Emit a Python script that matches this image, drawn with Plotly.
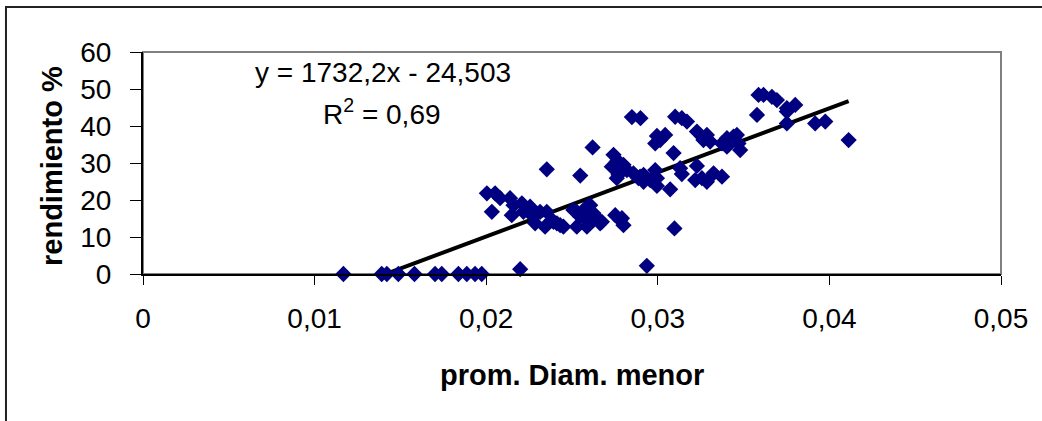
import plotly.graph_objects as go

# ---- data ----
diam_menor = [
    0.01168, 0.01391, 0.01421, 0.01488, 0.01582, 0.01702, 0.01741, 0.01838, 0.01887, 0.01935, 0.01974,
    0.02198, 0.02936, 0.03097,
    0.02004, 0.02052, 0.02033, 0.02081, 0.02139, 0.02159, 0.02149, 0.02208, 0.02217, 0.02256,
    0.02275, 0.02314, 0.02353, 0.02285, 0.02343, 0.02383, 0.02412, 0.02450, 0.02392, 0.02431,
    0.02508, 0.02528, 0.02548, 0.02587, 0.02606, 0.02625, 0.02567, 0.02654, 0.02528, 0.02587,
    0.02674, 0.02625, 0.02664, 0.02752, 0.02781, 0.02800, 0.02791,
    0.02353, 0.02548, 0.02620, 0.02849, 0.02899,
    0.02742, 0.02761, 0.02732, 0.02781, 0.02800, 0.02820, 0.02771, 0.02761, 0.02858, 0.02887,
    0.02917, 0.02897, 0.02917, 0.02956, 0.02985, 0.02995, 0.02995, 0.03072, 0.03092, 0.02995,
    0.03043, 0.02985, 0.03014, 0.03101, 0.03140, 0.03170, 0.03228, 0.03286, 0.03305, 0.03266,
    0.03130, 0.03140, 0.03228, 0.03218, 0.03257, 0.03286, 0.03325, 0.03374, 0.03403, 0.03441,
    0.03470, 0.03480, 0.03403, 0.03374, 0.03461, 0.03578, 0.03587, 0.03616, 0.03665, 0.03694,
    0.03752, 0.03801, 0.03752, 0.03752, 0.03917, 0.03976, 0.04112,
]
rendimiento = [
    0, 0, 0, 0, 0, 0, 0, 0, 0, 0, 0,
    1.3, 2.2, 12.3,
    21.8, 21.8, 16.8, 20.5, 20.5, 18.6, 15.9, 19.1, 16.8, 18.2,
    15.5, 16.8, 16.8, 13.7, 12.8, 14.6, 13.7, 12.8, 14.1, 13.2,
    17.3, 16.8, 15.5, 18.2, 18.6, 16.4, 15.5, 14.6, 12.8, 12.8,
    14.1, 14.6, 13.7, 15.9, 14.6, 13.2, 15.1,
    28.3, 26.6, 34.2, 42.4, 42.1,
    32.2, 30.4, 29.0, 29.9, 29.5, 28.1, 26.8, 25.9, 27.2, 25.9,
    26.8, 26.3, 24.9, 25.4, 28.1, 25.9, 23.8, 22.9, 32.7, 37.3,
    37.6, 35.3, 36.2, 42.5, 42.1, 41.2, 38.5, 37.6, 35.8, 36.2,
    28.6, 27.0, 29.2, 25.4, 25.9, 24.9, 27.2, 26.3, 36.7, 37.1,
    35.3, 33.5, 34.4, 35.3, 37.6, 43.0, 48.4, 48.4, 47.9, 47.0,
    44.8, 45.7, 43.9, 40.7, 40.7, 41.2, 36.2,
]

# trendline as printed on the chart
slope = 1732.2
intercept = -24.503
equation_text = "y = 1732,2x - 24,503"
r2_text = "R<sup>2</sup> = 0,69"

x_title = "prom. Diam. menor"
y_title = "rendimiento %"
x_tickvals = [0, 0.01, 0.02, 0.03, 0.04, 0.05]
x_ticktext = ["0", "0,01", "0,02", "0,03", "0,04", "0,05"]
y_tickvals = [0, 10, 20, 30, 40, 50, 60]

FONT = "Liberation Sans, Arial, sans-serif"

x_line = [min(diam_menor), max(diam_menor)]
y_line = [slope * v + intercept for v in x_line]

fig = go.Figure()
fig.add_trace(go.Scatter(
    x=x_line, y=y_line, mode="lines",
    line=dict(color="black", width=4),
    cliponaxis=True, hoverinfo="skip", showlegend=False,
))
fig.add_trace(go.Scatter(
    x=diam_menor, y=rendimiento, mode="markers",
    marker=dict(symbol="diamond", size=12.5, color="#000080", line=dict(width=0)),
    cliponaxis=False, showlegend=False,
))

axis_common = dict(showgrid=False, zeroline=False)
fig.update_layout(
    width=1042, height=421,
    margin=dict(l=143, r=41, t=52, b=147),
    paper_bgcolor="white", plot_bgcolor="white",
    font=dict(family=FONT, color="black"),
    xaxis=dict(range=[0, 0.05], tickvals=x_tickvals, ticktext=x_ticktext,
               ticks="outside", ticklen=9, tickwidth=1, tickcolor="black",
               ticklabelstandoff=9,
               showline=True, linecolor="black", linewidth=2,
               tickfont=dict(size=28, family=FONT), **axis_common),
    yaxis=dict(range=[0, 60], tickvals=y_tickvals,
               ticks="outside", ticklen=11, tickwidth=1, tickcolor="black",
               ticklabelstandoff=13,
               showline=True, linecolor="black", linewidth=2,
               tickfont=dict(size=28, family=FONT), **axis_common),
    xaxis2=dict(overlaying="x", anchor="y", range=[0, 0.05], tickvals=x_tickvals,
                ticks="inside", ticklen=9, tickwidth=1, tickcolor="black",
                showticklabels=False, showline=False, **axis_common),
    yaxis2=dict(overlaying="y", anchor="x", side="left", range=[0, 60], tickvals=y_tickvals,
                ticks="inside", ticklen=9, tickwidth=1, tickcolor="black",
                showticklabels=False, showline=False, **axis_common),
    shapes=[
        dict(type="rect", xref="paper", yref="paper", x0=0, x1=1, y0=0, y1=1,
             line=dict(color="#808080", width=2), layer="below"),
        dict(type="rect", xref="paper", yref="paper", x0=-0.1597, x1=1.2, y0=-1.0, y1=1.2027,
             line=dict(color="#222222", width=2), layer="below"),
    ],
    annotations=[
        dict(text=equation_text, xref="paper", yref="paper",
             x=(383 - 143) / 858, y=(274 - 72) / 222, xanchor="center", yanchor="middle",
             showarrow=False, font=dict(size=28, family=FONT)),
        dict(text=r2_text, xref="paper", yref="paper",
             x=(382 - 143) / 858, y=(274 - 112) / 222, xanchor="center", yanchor="middle",
             showarrow=False, font=dict(size=28, family=FONT)),
        dict(text="<b>" + x_title + "</b>", xref="paper", yref="paper",
             x=(572 - 143) / 858, y=(274 - 375) / 222, xanchor="center", yanchor="middle",
             showarrow=False, font=dict(size=29, family=FONT)),
        dict(text="<b>" + y_title + "</b>", xref="paper", yref="paper",
             x=(52 - 143) / 858, y=(274 - 166) / 222, xanchor="center", yanchor="middle",
             textangle=-90, showarrow=False, font=dict(size=29, family=FONT)),
    ],
)

fig.write_html("out.html")
